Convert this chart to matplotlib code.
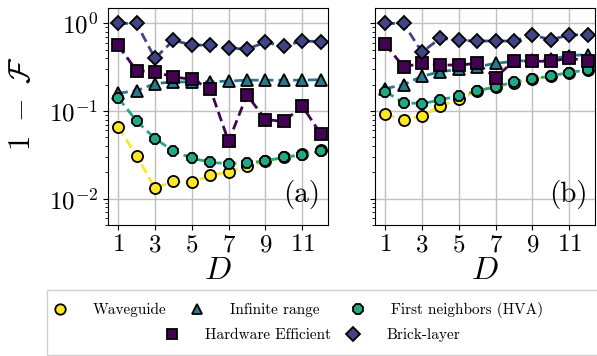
import matplotlib
matplotlib.use("Agg")
import matplotlib.pyplot as plt
from matplotlib.lines import Line2D
from matplotlib.patches import Rectangle
import numpy as np

plt.rcParams['font.family'] = ['cmr10', 'DejaVu Serif']
plt.rcParams['mathtext.fontset'] = 'cm'
plt.rcParams['axes.formatter.use_mathtext'] = True

D = list(range(1, 13))

names = ["Waveguide", "Infinite range", "First neighbors (HVA)",
         "Hardware Efficient", "Brick-layer"]
colors = ["#fde725", "#2a788e", "#22a884", "#440154", "#414487"]
markers = ["o", "^", "8", "s", "D"]

# panel (a)
wg_a = [0.0655, 0.031, 0.0132, 0.0157, 0.0153, 0.0184, 0.0204, 0.0233, 0.0266, 0.0296, 0.032, 0.0356]
inf_a = [0.16, 0.17, 0.206, 0.215, 0.215, 0.215, 0.22, 0.225, 0.225, 0.225, 0.225, 0.228]
fn_a = [0.142, 0.077, 0.0485, 0.035, 0.029, 0.026, 0.025, 0.0255, 0.027, 0.0296, 0.0317, 0.035]
hw_a = [0.56, 0.29, 0.28, 0.245, 0.23, 0.18, 0.045, 0.153, 0.080, 0.076, 0.114, 0.055]
br_a = [1.0, 1.0, 0.40, 0.64, 0.57, 0.56, 0.52, 0.51, 0.61, 0.55, 0.63, 0.62]

# panel (b)
wg_b = [0.092, 0.080, 0.0877, 0.114, 0.136, 0.17, 0.189, 0.21, 0.23, 0.252, 0.275, 0.296]
inf_b = [0.18, 0.20, 0.25, 0.28, 0.30, 0.32, 0.35, 0.37, 0.38, 0.39, 0.43, 0.44]
fn_b = [0.167, 0.125, 0.121, 0.134, 0.149, 0.17, 0.189, 0.215, 0.231, 0.252, 0.275, 0.296]
hw_b = [0.58, 0.32, 0.35, 0.335, 0.335, 0.35, 0.24, 0.376, 0.37, 0.37, 0.40, 0.376]
br_b = [1.0, 1.0, 0.47, 0.68, 0.64, 0.63, 0.63, 0.63, 0.74, 0.65, 0.74, 0.74]

panels = [("(a)", [wg_a, inf_a, fn_a, hw_a, br_a]),
          ("(b)", [wg_b, inf_b, fn_b, hw_b, br_b])]

W, H = 597, 356
fig = plt.figure(figsize=(W / 100, H / 100), dpi=100)

axes = []
lefts = [108, 375]
for i, (lab, series) in enumerate(panels):
    ax = fig.add_axes([lefts[i] / W, 1 - 225 / H, 220 / W, 217 / H])
    axes.append(ax)
    for s, name, c, m in zip(series, names, colors, markers):
        ax.plot(D, s, color=c, ls=(0, (3.5, 1.8)), lw=2.0, marker=m,
                ms=8 if m != "D" else 7.5, mfc=c, mec="black", mew=1.3, label=name)
    ax.set_yscale("log")
    ax.set_ylim(0.005, 1.5)
    ax.set_xlim(0.45, 12.4)
    ax.set_xticks([1, 3, 5, 7, 9, 11])
    ax.grid(True, which="major", color="#c0c0c0", lw=1.0)
    ax.set_axisbelow(True)
    ax.tick_params(labelsize=18)
    ax.tick_params(axis="x", pad=3)
    ax.set_xlabel(r"$D$", fontsize=23, labelpad=1)
    ax.text(0.965, 0.075, lab, transform=ax.transAxes, ha="right", va="bottom",
            fontsize=21)
    for sp in ax.spines.values():
        sp.set_color("black")

axes[1].tick_params(labelleft=False)
axes[0].set_ylabel(r"$1\ -\ \mathcal{F}$", fontsize=22)
axes[0].yaxis.set_label_coords(-0.325, 0.56)

# legend frame
fig.patches.append(Rectangle((47 / W, 1 - 355 / H), 560 / W, 65 / H,
                             transform=fig.transFigure, fill=True,
                             facecolor="white", edgecolor="#d0d0d0", lw=1.0,
                             zorder=0))
# marker centre positions (px) of the legend entries
leg_x = [60, 197, 358, 172, 353]
leg_y = [310, 310, 310, 335, 335]
for c, m, name, lx, ly in zip(colors, markers, names, leg_x, leg_y):
    h = Line2D([], [], ls="none", marker=m, ms=7.5 if m != "D" else 7,
               mfc=c, mec="black", mew=1.3)
    fig.legend([h], [name], loc="center left",
               bbox_to_anchor=((lx - 7.5) / W, 1 - ly / H),
               frameon=False, fontsize=11, handletextpad=1.65,
               handlelength=1.0, borderaxespad=0, borderpad=0)

fig.savefig("out.png", dpi=100)
